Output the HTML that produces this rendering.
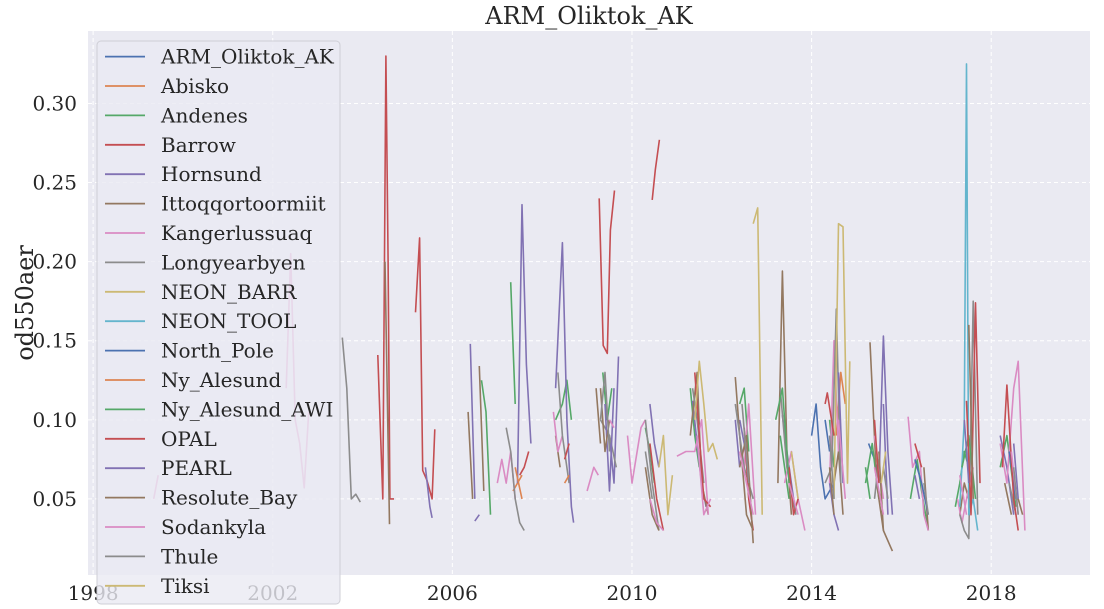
<!DOCTYPE html>
<html><head><meta charset="utf-8"><style>
body{margin:0;background:#fff;}
svg{display:block;font-family:"DejaVu Serif","Liberation Serif",serif;}
</style></head><body>
<svg id="chart" width="1104" height="609" viewBox="0 0 1104 609" xmlns="http://www.w3.org/2000/svg">
<rect x="0" y="0" width="1104" height="609" fill="#ffffff"/>
<rect x="88" y="31" width="1002" height="544" fill="#eaeaf2"/>
<g id="grid"></g><g id="series"></g><g id="ticks"></g>
<text x="589" y="24" font-size="24" text-anchor="middle" fill="#262626">ARM_Oliktok_AK</text>
<text transform="translate(33,303) rotate(-90)" font-size="24" text-anchor="middle" fill="#262626">od550aer</text>
<g id="legend"></g>
</svg>
<script>
const names=["ARM_Oliktok_AK","Abisko","Andenes","Barrow","Hornsund","Ittoqqortoormiit","Kangerlussuaq","Longyearbyen","NEON_BARR","NEON_TOOL","North_Pole","Ny_Alesund","Ny_Alesund_AWI","OPAL","PEARL","Resolute_Bay","Sodankyla","Thule","Tiksi"];
const palette=["#4c72b0","#dd8452","#55a868","#c44e52","#8172b3","#937860","#da8bc3","#8c8c8c","#ccb974","#64b5cd"];
const xTicks=[1998,2002,2006,2010,2014,2018];
const yTicks=[0.05,0.10,0.15,0.20,0.25,0.30];
const yTickLabels=["0.05","0.10","0.15","0.20","0.25","0.30"];
const sARM=[[2014.0,0.09],[2014.1,0.11],[2014.2,0.07],[2014.3,0.05],[2014.5,0.06],null,[2015.27,0.085],[2015.4,0.075],[2015.55,0.06]];
const sAbisko=[[2007.35,0.055],[2007.45,0.06],[2007.55,0.065],null,[2014.55,0.09],[2014.65,0.13],[2014.75,0.11]];
const sAndenes=[[2006.65,0.125],[2006.75,0.105],[2006.85,0.04],null,[2007.3,0.187],[2007.4,0.11],null,[2008.3,0.10],[2008.45,0.11],[2008.55,0.125],[2008.65,0.10],null,[2009.35,0.13],[2009.45,0.10],[2009.55,0.12],null,[2010.3,0.095],[2010.4,0.08],[2010.5,0.06],null,[2011.3,0.12],[2011.4,0.09],[2011.5,0.07],null,[2012.4,0.11],[2012.5,0.12],[2012.6,0.08],null,[2013.3,0.09],[2013.4,0.07],[2013.5,0.05],null,[2014.4,0.1],[2014.5,0.07],null,[2015.2,0.06],[2015.35,0.085],[2015.5,0.05],null,[2016.2,0.05],[2016.35,0.075],[2016.45,0.055],[2016.6,0.03],null,[2017.2,0.045],[2017.3,0.06],[2017.4,0.08],[2017.6,0.06],null,[2018.2,0.07],[2018.35,0.09],[2018.55,0.045]];
const sBarrow=[[2004.34,0.141],[2004.45,0.05],[2004.52,0.33],[2004.57,0.2],[2004.61,0.05],[2004.7,0.05],null,[2005.18,0.168],[2005.27,0.215],[2005.34,0.068],[2005.43,0.062],[2005.55,0.05],[2005.61,0.094],null,[2007.5,0.065],[2007.6,0.07],[2007.7,0.08],null,[2009.27,0.24],[2009.36,0.147],[2009.45,0.142],[2009.52,0.22],[2009.61,0.245],null,[2010.45,0.239],[2010.52,0.258],[2010.61,0.277]];
const sHornsund=[[2005.4,0.07],[2005.5,0.045],[2005.55,0.038],null,[2006.4,0.148],[2006.5,0.05],null,[2007.45,0.06],[2007.55,0.236],[2007.65,0.135],[2007.75,0.085],null,[2008.3,0.12],[2008.45,0.212],[2008.55,0.10],[2008.65,0.045],[2008.7,0.035],null,[2009.5,0.09],[2009.6,0.06],[2009.7,0.14],null,[2010.4,0.11],[2010.5,0.085],[2010.6,0.07],null,[2011.35,0.112],[2011.45,0.085],[2011.55,0.06],[2011.65,0.045],null,[2012.4,0.1],[2012.5,0.085],[2012.6,0.06],null,[2013.35,0.103],[2013.45,0.08],[2013.6,0.05],null,[2014.4,0.06],[2014.5,0.04],[2014.6,0.03],null,[2015.5,0.06],[2015.6,0.153],[2015.7,0.08],[2015.8,0.04],null,[2016.3,0.065],[2016.4,0.05],null,[2018.2,0.09],[2018.35,0.07],[2018.5,0.04]];
const sIttoq=[[2004.5,0.2],[2004.6,0.034],null,[2006.35,0.105],[2006.45,0.05],null,[2006.6,0.134],[2006.7,0.055],null,[2008.3,0.09],[2008.4,0.07],null,[2009.2,0.12],[2009.3,0.085],null,[2011.3,0.09],[2011.45,0.13],[2011.55,0.06],[2011.7,0.04],null,[2012.3,0.127],[2012.4,0.09],[2012.55,0.04],[2012.7,0.03],null,[2013.25,0.06],[2013.35,0.194],[2013.45,0.08],[2013.55,0.04],null,[2014.5,0.06],[2014.6,0.08],[2014.7,0.04],null,[2015.3,0.149],[2015.45,0.06],[2015.6,0.03],[2015.8,0.017],null,[2016.5,0.07],[2016.6,0.03],null,[2017.3,0.04],[2017.4,0.06],[2017.5,0.05],null,[2018.3,0.06],[2018.45,0.04]];
const sKanger=[[1999.35,0.05],[1999.45,0.065],null,[2002.3,0.12],[2002.4,0.205],[2002.5,0.1],[2002.6,0.085],[2002.7,0.057],[2002.8,0.105],null,[2007.0,0.06],[2007.1,0.075],[2007.2,0.06],[2007.3,0.08],[2007.4,0.05],null,[2008.25,0.105],[2008.35,0.08],[2008.45,0.09],null,[2009.0,0.055],[2009.15,0.07],[2009.25,0.065],null,[2009.9,0.09],[2010.0,0.06],[2010.2,0.095],[2010.3,0.1],null,[2011.0,0.077],[2011.2,0.08],[2011.4,0.08],[2011.55,0.1],[2011.7,0.04],null,[2012.5,0.07],[2012.6,0.11],[2012.75,0.04],null,[2013.4,0.06],[2013.55,0.08],[2013.7,0.05],[2013.85,0.03],null,[2014.4,0.06],[2014.5,0.15],[2014.6,0.08],null,[2015.4,0.09],[2015.6,0.05],null,[2016.15,0.102],[2016.25,0.07],[2016.4,0.08],[2016.5,0.04],[2016.6,0.03],null,[2017.25,0.05],[2017.35,0.035],[2017.45,0.05],[2017.6,0.07],null,[2018.2,0.085],[2018.35,0.06],[2018.5,0.12],[2018.6,0.137],[2018.75,0.03]];
const sLongyear=[[2003.55,0.152],[2003.65,0.12],[2003.75,0.05],[2003.85,0.053],[2003.95,0.048],null,[2007.2,0.095],[2007.3,0.08],[2007.4,0.05],[2007.5,0.035],[2007.6,0.03],null,[2008.35,0.13],[2008.45,0.09],[2008.6,0.06],null,[2009.3,0.1],[2009.5,0.09],[2009.65,0.07],null,[2010.3,0.1],[2010.45,0.06],[2010.6,0.03],null,[2011.35,0.12],[2011.45,0.1],[2011.6,0.06],null,[2012.3,0.11],[2012.5,0.07],[2012.7,0.05],null,[2013.3,0.12],[2013.45,0.07],[2013.65,0.04],null,[2014.3,0.06],[2014.45,0.07],[2014.55,0.17],[2014.65,0.06],null,[2015.4,0.05],[2015.5,0.075],null,[2017.3,0.04],[2017.4,0.03],[2017.5,0.025],[2017.6,0.175],[2017.7,0.04],null,[2018.4,0.06],[2018.55,0.04]];
const sNeonBarr=[[2012.7,0.224],[2012.8,0.234],[2012.9,0.04],null,[2014.5,0.05],[2014.6,0.224],[2014.7,0.222],[2014.8,0.06],[2014.85,0.137]];
const sNeonTool=[[2017.3,0.045],[2017.4,0.1],[2017.45,0.325],[2017.5,0.04],[2017.6,0.05],[2017.7,0.03]];
const sNorthPole=[[2014.3,0.1],[2014.4,0.08],null,[2016.3,0.075],[2016.45,0.06],[2016.6,0.04],null,[2018.4,0.08],[2018.55,0.05]];
const sNyAlesund=[[2007.4,0.07],[2007.55,0.05],null,[2008.5,0.06],[2008.6,0.065]];
const sNyAwi=[[2013.2,0.1],[2013.35,0.12],[2013.5,0.06],null,[2015.2,0.07],[2015.3,0.05],null,[2017.35,0.07],[2017.5,0.09],[2017.65,0.05]];
const sOpal=[[2008.5,0.075],[2008.6,0.085],null,[2010.4,0.085],[2010.55,0.05],[2010.7,0.03],null,[2011.4,0.13],[2011.5,0.09],[2011.6,0.05],[2011.75,0.045],null,[2012.5,0.095],[2012.6,0.05],[2012.7,0.03],null,[2013.5,0.07],[2013.6,0.04],[2013.7,0.05],null,[2014.3,0.11],[2014.35,0.117],[2014.5,0.09],null,[2015.4,0.1],[2015.5,0.06],null,[2016.3,0.085],[2016.45,0.07],null,[2017.45,0.112],[2017.55,0.04],[2017.65,0.174],[2017.75,0.06],null,[2018.25,0.07],[2018.35,0.122],[2018.5,0.05],[2018.6,0.03]];
const sPearl=[[2006.5,0.036],[2006.6,0.04],null,[2009.4,0.11],[2009.5,0.055],[2009.6,0.12],null,[2012.3,0.1],[2012.4,0.07],null,[2014.6,0.13],[2014.7,0.06],null,[2015.6,0.11],[2015.7,0.04],null,[2017.4,0.1],[2017.5,0.06],null,[2018.5,0.085],[2018.6,0.05]];
const sResolute=[[2009.3,0.12],[2009.4,0.08],[2009.5,0.1],null,[2010.3,0.07],[2010.45,0.04],[2010.6,0.03],null,[2012.4,0.07],[2012.55,0.09],[2012.7,0.022],null,[2014.4,0.07],[2014.5,0.04],null,[2015.5,0.08],[2015.6,0.03],null,[2017.5,0.16],[2017.6,0.05],null,[2018.6,0.05],[2018.7,0.04]];
const sSodankyla=[[2009.5,0.1],[2009.6,0.095],null,[2010.4,0.05],[2010.55,0.035],[2010.7,0.03],null,[2011.45,0.09],[2011.6,0.04],[2011.75,0.05],null,[2012.4,0.08],[2012.55,0.06],[2012.7,0.04],null,[2013.5,0.06],[2013.7,0.04],null,[2014.6,0.10],[2014.75,0.05],null,[2015.4,0.07],[2015.6,0.04],null,[2017.3,0.065],[2017.45,0.04],null,[2018.45,0.08],[2018.6,0.04]];
const sThule=[[2009.3,0.1],[2009.4,0.13],[2009.5,0.08],null,[2010.3,0.08],[2010.45,0.05],null,[2012.45,0.11],[2012.6,0.06],null,[2014.4,0.09],[2014.5,0.05],null,[2015.6,0.07],[2015.7,0.05],null,[2016.5,0.06],[2016.6,0.04],null,[2018.5,0.07],[2018.6,0.04]];
const sTiksi=[[2010.6,0.07],[2010.7,0.09],[2010.8,0.04],[2010.9,0.065],null,[2011.4,0.1],[2011.5,0.137],[2011.6,0.11],[2011.7,0.08],[2011.8,0.085],[2011.9,0.075],null,[2013.55,0.08],[2013.7,0.05],null,[2015.55,0.06],[2015.65,0.08]];
const allSeries=[sARM,sAbisko,sAndenes,sBarrow,sHornsund,sIttoq,sKanger,sLongyear,sNeonBarr,sNeonTool,sNorthPole,sNyAlesund,sNyAwi,sOpal,sPearl,sResolute,sSodankyla,sThule,sTiksi];

const PL=88,PR=1090,PT=31,PB=575;
const xMin=1997.886,xMax=2020.2,yMin=0.0019,yMax=0.3458;
const xs=v=>PL+(v-xMin)/(xMax-xMin)*(PR-PL);
const ys=v=>PB-(v-yMin)/(yMax-yMin)*(PB-PT);
const NS="http://www.w3.org/2000/svg";
function mk(tag,attrs,parent){const e=document.createElementNS(NS,tag);for(const k in attrs)e.setAttribute(k,attrs[k]);parent.appendChild(e);return e;}
const grid=document.getElementById('grid'),ticks=document.getElementById('ticks'),ser=document.getElementById('series'),leg=document.getElementById('legend');
xTicks.forEach(t=>{const x=xs(t);
 const l=mk('line',{x1:x,x2:x,y1:PT,y2:PB,stroke:'#fff','stroke-width':1,'stroke-dasharray':'4,3'},grid);
 
 
 const tx=mk('text',{x:x,y:600,'font-size':20,'text-anchor':'middle',fill:'#262626'},ticks);tx.textContent=String(t);
 
 
});
yTicks.forEach((t,i)=>{const y=ys(t);
 const l=mk('line',{x1:PL,x2:PR,y1:y,y2:y,stroke:'#fff','stroke-width':1,'stroke-dasharray':'4,3'},grid);
 
 
 const tx=mk('text',{x:77,y:y+7,'font-size':20,'text-anchor':'end',fill:'#262626'},ticks);tx.textContent=yTickLabels[i];
 
 
});
allSeries.forEach((s,i)=>{let d='',pen=false;
 s.forEach(p=>{if(!p){pen=false;return;}d+=(pen?'L':'M')+xs(p[0]).toFixed(1)+','+ys(p[1]).toFixed(1);pen=true;});
 const path=mk('path',{d:d,fill:'none',stroke:palette[i%10],'stroke-width':1.6,'stroke-linejoin':'round'},ser);
 
 
});
const box=mk('rect',{x:97,y:41,width:243,height:563,rx:4,fill:'rgba(234,234,242,0.8)',stroke:'#cfcfd6','stroke-width':1},leg);


names.forEach((n,i)=>{const y=56.6+i*29.4;
 const g=mk('g',{},leg);
 
 
 mk('line',{x1:105,x2:145,y1:y,y2:y,stroke:palette[i%10],'stroke-width':1.8},g);
 const t=mk('text',{x:161,y:y+7,'font-size':20,fill:'#262626'},g);t.textContent=n;
});
</script>
</body></html>
